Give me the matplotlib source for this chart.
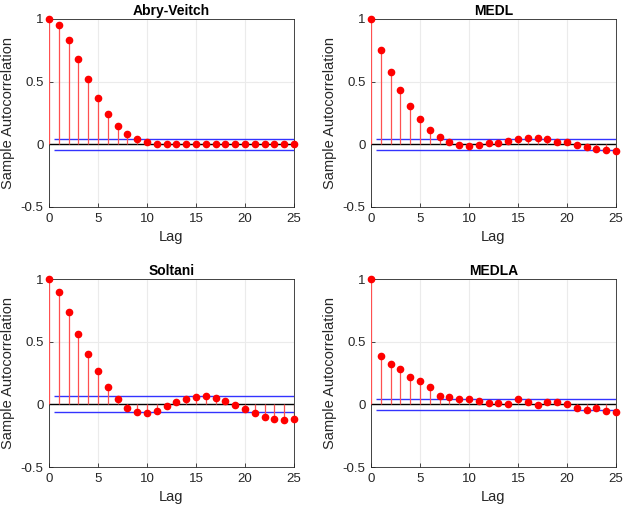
import matplotlib
matplotlib.use("Agg")
import matplotlib.pyplot as plt
import numpy as np

plt.rcParams['font.family'] = ['Liberation Sans', 'DejaVu Sans']

lags = list(range(26))
titles = ["Abry-Veitch", "MEDL", "Soltani", "MEDLA"]

acf_abry = [1.0, 0.949, 0.832, 0.68, 0.523, 0.371, 0.243, 0.149, 0.08, 0.043, 0.021,
            0.005, 0.002, 0.001, 0.001, 0.001, 0.001, 0.001, 0.001, 0.001, 0.001,
            0.001, 0.001, 0.001, 0.001, 0.001]
acf_medl = [1.0, 0.752, 0.579, 0.437, 0.307, 0.2, 0.117, 0.059, 0.021, -0.005, -0.011,
            -0.005, 0.008, 0.013, 0.024, 0.043, 0.048, 0.048, 0.043, 0.021, 0.016,
            -0.005, -0.024, -0.04, -0.045, -0.051]
acf_soltani = [1.0, 0.897, 0.735, 0.563, 0.402, 0.262, 0.14, 0.045, -0.026, -0.061, -0.066,
               -0.05, -0.016, 0.016, 0.045, 0.061, 0.066, 0.05, 0.026, -0.005, -0.04,
               -0.071, -0.1, -0.116, -0.122, -0.116]
acf_medla = [1.0, 0.389, 0.323, 0.278, 0.217, 0.188, 0.135, 0.066, 0.056, 0.045, 0.04,
             0.026, 0.011, 0.011, 0.005, 0.045, 0.016, -0.002, 0.021, 0.016, 0.005,
             -0.029, -0.045, -0.029, -0.05, -0.061]
bounds = [0.044, 0.044, 0.063, 0.045]

series = [acf_abry, acf_medl, acf_soltani, acf_medla]

W, H = 623, 508
fig = plt.figure(figsize=(W / 100, H / 100), dpi=100)
boxes = [(49, 19, 294, 207), (371, 19, 616, 207), (49, 279, 294, 467), (371, 279, 616, 467)]

tc = '#262626'
for (l, t, r, b), title, acf, bnd in zip(boxes, titles, series, bounds):
    ax = fig.add_axes([l / W, 1 - b / H, (r - l) / W, (b - t) / H])
    ax.set_xlim(0, 25)
    ax.set_ylim(-0.5, 1)
    ax.grid(True, color='#ebebeb', linewidth=0.8)
    ax.set_axisbelow(True)
    ax.vlines(lags, 0, acf, color='#ff5050', linewidth=0.9, zorder=3)
    ax.plot(lags, acf, 'o', color='red', markersize=4.5, zorder=4, clip_on=False)
    ax.axhline(0, color='black', linewidth=1.0, zorder=2)
    ax.hlines([bnd, -bnd], 0.5, 25, color='#3333ff', linewidth=1.0, zorder=2)
    ax.set_xticks([0, 5, 10, 15, 20, 25])
    ax.set_yticks([-0.5, 0, 0.5, 1])
    ax.set_yticklabels(['-0.5', '0', '0.5', '1'])
    ax.tick_params(direction='in', length=3, labelsize=9.5, colors=tc, width=0.6, pad=4)
    for s in ax.spines.values():
        s.set_color(tc)
        s.set_linewidth(0.6)
    ax.set_title(title, fontsize=10, fontweight='bold', pad=3)
    ax.set_xlabel('Lag', fontsize=10.5, color=tc, labelpad=4)
    ax.set_ylabel('Sample Autocorrelation', fontsize=10.5, color=tc, labelpad=4)

fig.savefig('out.png', dpi=100)
